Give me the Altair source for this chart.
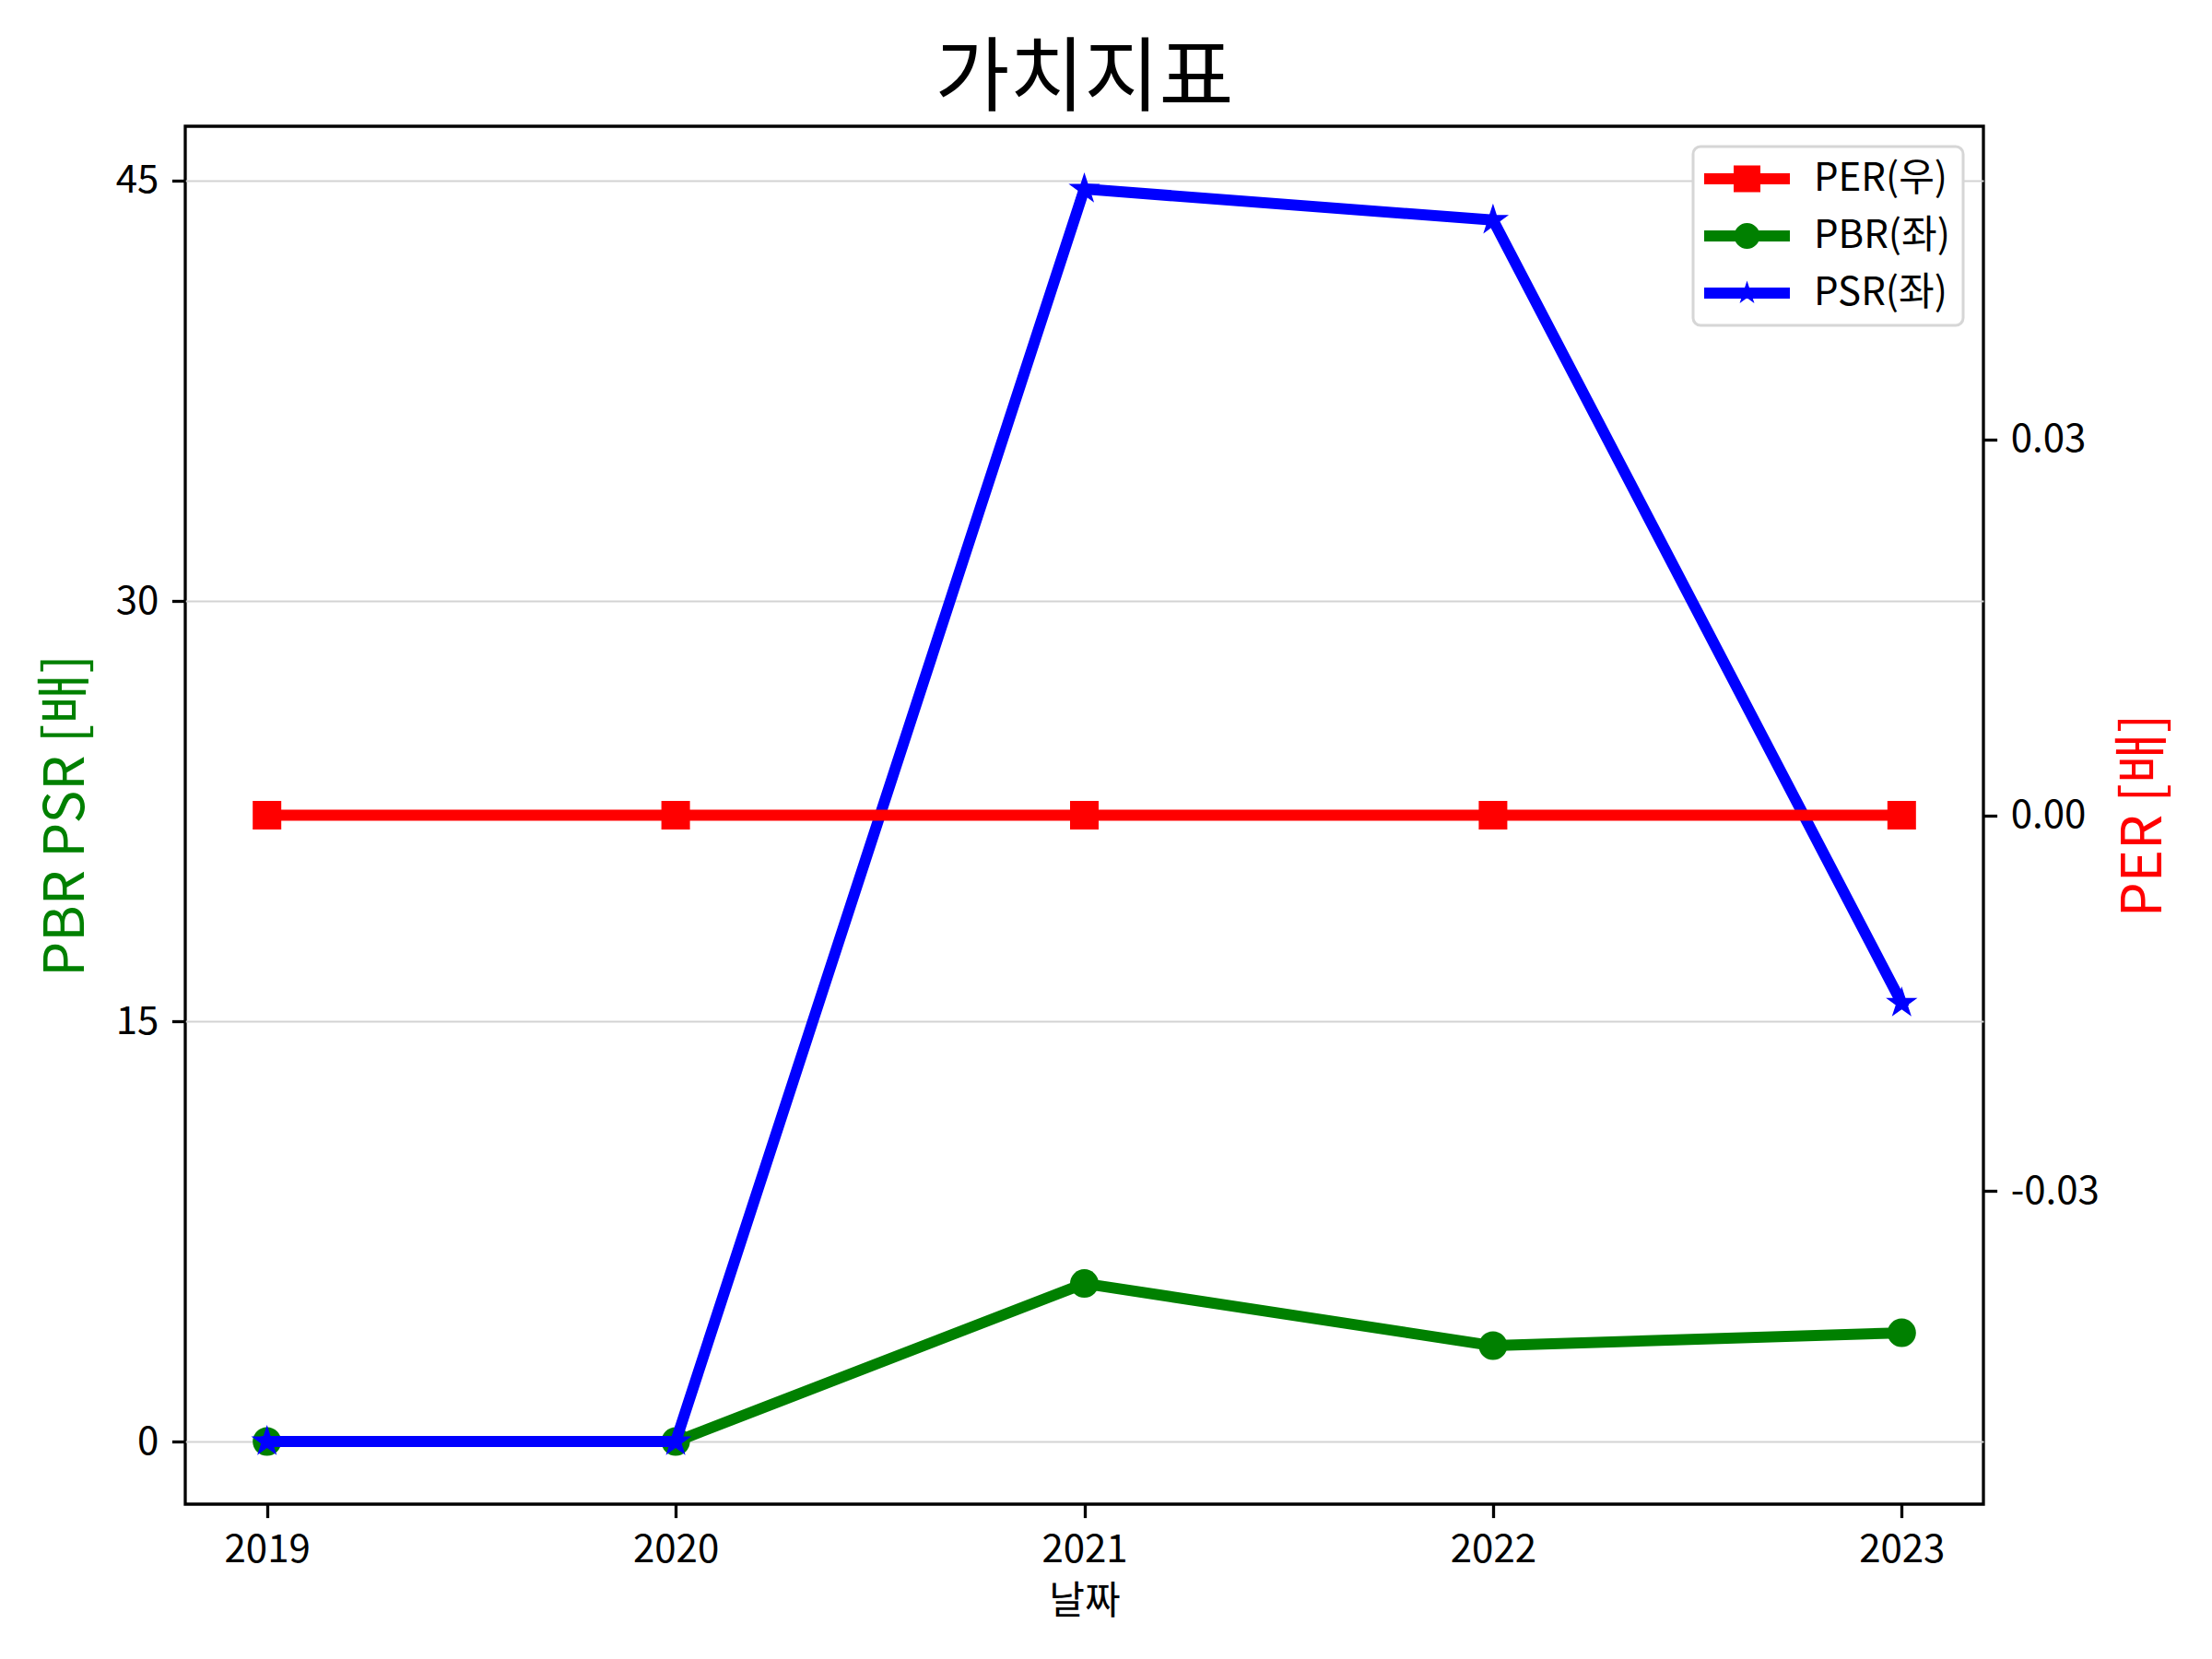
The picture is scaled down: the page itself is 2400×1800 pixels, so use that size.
import math
import altair as alt
import pandas as pd

# ---- data ----
years = [2019, 2020, 2021, 2022, 2023]
per = [0.0, 0.0, 0.0, 0.0, 0.0]
pbr = [0.0, 0.0, 5.64, 3.42, 3.88]
psr = [0.0, 0.0, 44.70, 43.59, 15.65]

series_names = ["PER(우)", "PBR(좌)", "PSR(좌)"]
series_colors = ["#ff0000", "#008000", "#0000ff"]

rows = []
for name, vals in zip(series_names, [per, pbr, psr]):
    for y, v in zip(years, vals):
        rows.append({"year": y, "value": v, "series": name})
df = pd.DataFrame(rows)

FONT = "Noto Sans CJK KR"


# ---- symbol paths, unit u = sqrt(size)/2 ----
def poly(points):
    return "M" + "L".join(f"{x:.3f},{y:.3f}" for x, y in points) + "Z"


def star_points(cx, ro, ri):
    return [(cx + (ro if k % 2 == 0 else ri) * math.cos(-math.pi / 2 + k * math.pi / 5),
             (ro if k % 2 == 0 else ri) * math.sin(-math.pi / 2 + k * math.pi / 5))
            for k in range(10)]


STAR = poly(star_points(0.0, 1.0, 0.382))

L0, L1 = -1.0, 5.2
cx = (L0 + L1) / 2
lh = 0.4
line_rect = poly([(L0, -lh), (L1, -lh), (L1, lh), (L0, lh)])
sq = 0.967
square_p = poly([(cx - sq, -sq), (cx + sq, -sq), (cx + sq, sq), (cx - sq, sq)])
cr = 0.93
circle_p = poly([(cx + cr * math.cos(2 * math.pi * k / 32),
                  cr * math.sin(2 * math.pi * k / 32)) for k in range(32)])
star_p = poly(star_points(cx, 0.9, 0.9 * 0.382))
legend_shapes = [line_rect + square_p, line_rect + circle_p, line_rect + star_p]

xscale = alt.Scale(domain=[2018.8, 2023.2], nice=False, zero=False)
xaxis = alt.Axis(values=years, format="d", title="날짜", grid=False,
                 orient="bottom", titlePadding=15)
X = alt.X("year:Q", scale=xscale, axis=xaxis)

yl_scale = alt.Scale(domain=[-2.235, 46.94], nice=False, zero=False)
yl_axis = alt.Axis(values=[0, 15, 30, 45], title="PBR PSR [배]", orient="left",
                   titleColor="#008000", titleFontSize=60, titlePadding=22,
                   grid=True, gridColor="#d3d3d3", gridWidth=2)
YL = alt.Y("value:Q", scale=yl_scale, axis=yl_axis)

yr_scale = alt.Scale(domain=[-0.055, 0.055], nice=False, zero=False)
yr_axis = alt.Axis(values=[-0.03, 0.0, 0.03],
                   labelExpr="datum.value < 0 ? '-' + format(-datum.value, '.2f') : format(datum.value, '.2f')",
                   title="PER [배]", orient="right", titleColor="#ff0000",
                   titleFontSize=60, titleAngle=270, titleBaseline="top",
                   titlePadding=20, grid=False)
YR = alt.Y("value:Q", scale=yr_scale, axis=yr_axis)

base = alt.Chart(df)

# legend-only layer: no rows survive the filter, entries come from the scale domain
legend_layer = base.transform_filter("false").mark_point(filled=True, opacity=1).encode(
    x=X, y=YL,
    color=alt.Color("series:N",
                    scale=alt.Scale(domain=series_names, range=series_colors),
                    legend=alt.Legend(title=None, orient="top-right", offset=22,
                                      symbolSize=900, symbolOpacity=1,
                                      symbolOffset=-8,
                                      labelOffset=83, labelFontSize=42,
                                      labelFont=FONT, rowPadding=20,
                                      padding=14, fillColor="white",
                                      strokeColor="#d6d6d6",
                                      cornerRadius=8)),
    shape=alt.Shape("series:N",
                    scale=alt.Scale(domain=series_names, range=legend_shapes)),
)


def series_layers(name, color, shape, size, Y):
    d = base.transform_filter(alt.datum.series == name)
    ln = d.mark_line(color=color, strokeWidth=12, strokeJoin="round",
                     strokeCap="square").encode(x=X, y=Y)
    pt = d.mark_point(filled=True, color=color, shape=shape, size=size,
                      opacity=1).encode(x=X, y=Y)
    return [ln, pt]


left = alt.layer(
    legend_layer,
    *series_layers("PBR(좌)", "#008000", "circle", 961, YL),
    *series_layers("PSR(좌)", "#0000ff", STAR, 1300, YL),
)
right = alt.layer(*series_layers("PER(우)", "#ff0000", "square", 961, YR))

chart = alt.layer(left, right).resolve_scale(y="independent").properties(
    width=1951, height=1495,
    background="white",
    autosize=alt.AutoSizeParams(type="none"),
    padding={"left": 193, "top": 129, "right": 240, "bottom": 160},
    title=alt.Title("가치지표", fontSize=88, font=FONT, fontWeight="normal",
                    color="black", anchor="middle", offset=6),
).configure_view(
    stroke="black", strokeWidth=3.3
).configure_axis(
    domain=False, labelFont=FONT, labelFontSize=42, labelColor="black",
    titleFont=FONT, titleFontSize=42, titleFontWeight="normal",
    titleColor="black", tickColor="black", tickWidth=3.3, tickSize=14.6,
    labelPadding=14.6,
).configure_legend(
    strokeWidth=3
)

chart.save("out.html", embed_options={"renderer": "svg", "actions": False})
